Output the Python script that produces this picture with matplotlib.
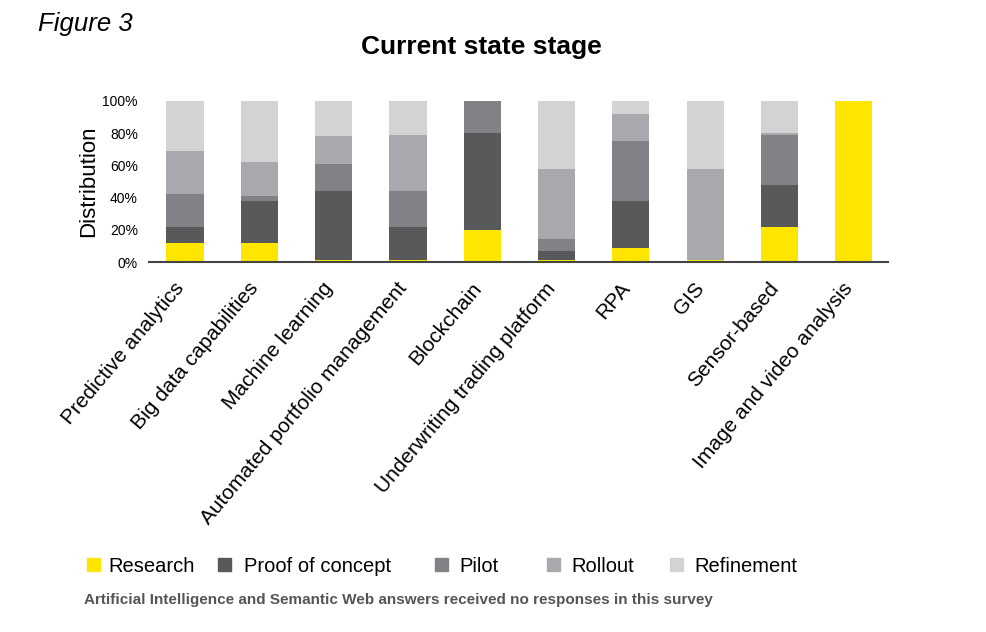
import matplotlib.pyplot as plt
import matplotlib.patches as mpatches
import numpy as np

plt.rcParams['font.family'] = ['Liberation Sans', 'DejaVu Sans']

categories = ["Predictive analytics", "Big data capabilities", "Machine learning",
              "Automated portfolio management", "Blockchain", "Underwriting trading platform",
              "RPA", "GIS", "Sensor-based", "Image and video analysis"]

stages = ["Research", "Proof of concept", "Pilot", "Rollout", "Refinement"]
colors = ["#FFE600", "#58595B", "#808285", "#A7A9AC", "#D1D3D4"]

research = [12, 12, 1, 1, 20, 1, 9, 1, 22, 100]
proof_of_concept = [10, 26, 43, 21, 60, 6, 29, 0, 26, 0]
pilot = [20, 3, 17, 22, 20, 7, 37, 0, 31, 0]
rollout = [27, 21, 17, 35, 0, 44, 17, 57, 1, 0]
refinement = [31, 38, 22, 21, 0, 42, 8, 42, 20, 0]

series = [research, proof_of_concept, pilot, rollout, refinement]

fig = plt.figure(figsize=(9.86, 6.32), dpi=100)
ax = fig.add_axes([149 / 986, 1 - 262 / 632, 739 / 986, 161 / 632])

x = np.arange(len(categories))
bottom = np.zeros(len(categories))
for vals, col, name in zip(series, colors, stages):
    ax.bar(x, vals, width=0.5, bottom=bottom, color=col, label=name, zorder=2)
    bottom += np.array(vals)

ax.set_xlim(-0.485, 9.46)
ax.set_ylim(0, 100)
ax.set_yticks([0, 20, 40, 60, 80, 100])
ax.set_yticklabels([f"{v}%" for v in [0, 20, 40, 60, 80, 100]], fontsize=10)
ax.tick_params(axis='y', length=0, pad=8)
ax.tick_params(axis='x', length=0, pad=19)
ax.set_xticks(x)
ax.set_xticklabels(categories, rotation=50, ha='right', va='baseline',
                   rotation_mode='anchor', fontsize=15)
ax.set_ylabel("Distribution", fontsize=16, labelpad=2)
for s in ['top', 'right', 'left']:
    ax.spines[s].set_visible(False)
ax.spines['bottom'].set_color('#444444')
ax.spines['bottom'].set_linewidth(1.5)
ax.spines['bottom'].set_zorder(3)

fig.text(38 / 986, 1 - 24 / 632, "Figure 3", fontsize=18.5, style='italic', va='center', ha='left')
fig.text(481 / 986, 1 - 47 / 632, "Current state stage", fontsize=19, weight='bold', va='center', ha='center')

# legend
sq_x = [87, 218, 435, 547, 670]
tx_x = [108, 244, 459, 571, 694]
for sx, tx, col, name in zip(sq_x, tx_x, colors, stages):
    fig.patches.append(mpatches.Rectangle((sx / 986, 1 - 571 / 632), 13 / 986, 13 / 632,
                                          transform=fig.transFigure, color=col))
    fig.text(tx / 986, 1 - 566 / 632, name, fontsize=14.5, va='center', ha='left')

fig.text(84 / 986, 1 - 600 / 632,
         "Artificial Intelligence and Semantic Web answers received no responses in this survey",
         fontsize=11, weight='bold', color='#555555', va='center', ha='left')

fig.savefig("out.png", dpi=100)
